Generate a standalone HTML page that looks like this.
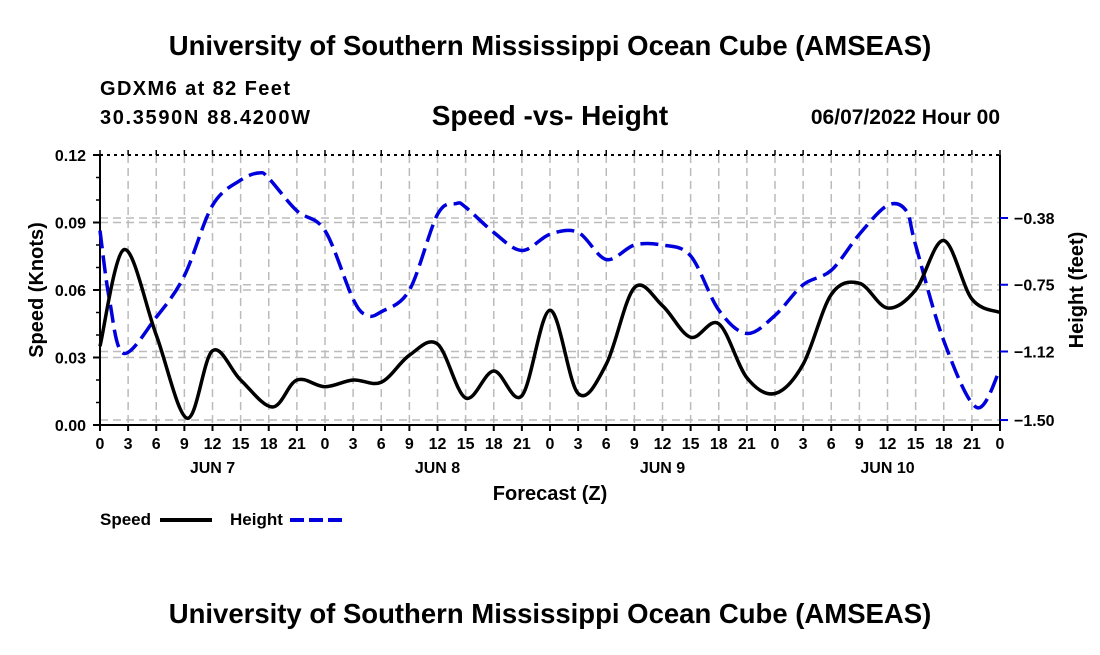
<!DOCTYPE html>
<html><head><meta charset="utf-8"><style>
body{margin:0;background:#fff;width:1100px;height:650px;overflow:hidden}
svg text{font-family:"Liberation Sans",Arial,sans-serif;font-weight:bold}
</style></head><body>
<svg id="chart" width="1100" height="650" xmlns="http://www.w3.org/2000/svg">
<text x="550" y="55" font-size="27.5" text-anchor="middle">University of Southern Mississippi Ocean Cube (AMSEAS)</text>
<text x="100" y="95" font-size="20" textLength="190">GDXM6 at 82 Feet</text>
<text x="100" y="124" font-size="20" textLength="210">30.3590N  88.4200W</text>
<text x="550" y="125" font-size="28" text-anchor="middle">Speed -vs- Height</text>
<text x="1000" y="124" font-size="21" text-anchor="end">06/07/2022 Hour 00</text>
<text x="550" y="623" font-size="27.5" text-anchor="middle">University of Southern Mississippi Ocean Cube (AMSEAS)</text>
<g id="grid"></g><g id="axes"></g><g id="series"></g>
<text x="550" y="500" font-size="20" text-anchor="middle">Forecast (Z)</text>
<text transform="translate(43,290) rotate(-90)" font-size="20" text-anchor="middle">Speed (Knots)</text>
<text transform="translate(1083,290) rotate(-90)" font-size="20" text-anchor="middle">Height (feet)</text>
<g>
<text x="100" y="525" font-size="17">Speed</text>
<line x1="160" y1="520" x2="212" y2="520" stroke="#000" stroke-width="4"/>
<text x="230" y="525" font-size="17">Height</text>
<line x1="290" y1="520" x2="342" y2="520" stroke="#0000dd" stroke-width="4" stroke-dasharray="14,5"/>
</g>
</svg>
<script>
const speedHours=[0,2.6,6,9.3,12,15,18.4,21,24,27,30,33,36,39,42,45,48,51,54,57,60,63,66,69,72,75,78,81,84,87,90,93,96];
const speedValues=[0.035,0.078,0.040,0.003,0.033,0.020,0.008,0.020,0.017,0.020,0.019,0.031,0.036,0.012,0.024,0.013,0.051,0.014,0.027,0.061,0.053,0.039,0.045,0.021,0.014,0.027,0.058,0.063,0.052,0.060,0.082,0.056,0.050];
const heightHours=[0,1,2.5,6,9,12,15,17,18,21,24,27,28.5,30,33,36,38,39,42,45,48,51,54,57,60,63,66,69,72,75,78,81,84,86,87,90,93.5,96];
const heightValues=[-0.45,-0.83,-1.13,-0.93,-0.70,-0.31,-0.17,-0.13,-0.16,-0.34,-0.45,-0.83,-0.92,-0.90,-0.78,-0.36,-0.30,-0.32,-0.46,-0.56,-0.47,-0.46,-0.61,-0.53,-0.53,-0.59,-0.89,-1.02,-0.92,-0.75,-0.67,-0.47,-0.31,-0.34,-0.53,-1.06,-1.43,-1.22];
const xTickLabels=["0","3","6","9","12","15","18","21"];
const dayLabels=["JUN 7","JUN 8","JUN 9","JUN 10"];
const speedTicks=[0,0.03,0.06,0.09,0.12];
const heightTicks=[-0.38,-0.75,-1.12,-1.50];
const L=100,R=1000,T=155,B=425;
const xs=h=>L+h*(R-L)/96;
const yS=v=>B-v*(B-T)/0.12;
const yH=h=>218+(-0.38-h)*180.4;
const NS="http://www.w3.org/2000/svg";
function mk(p,tag,a){const e=document.createElementNS(NS,tag);for(const k in a)e.setAttribute(k,a[k]);p.appendChild(e);return e;}
const grid=document.getElementById('grid'),axes=document.getElementById('axes'),ser=document.getElementById('series');
for(let h=3;h<96;h+=3){const l=mk(grid,'line',{x1:xs(h),x2:xs(h),y1:T,y2:B,stroke:'#bbb','stroke-width':1.5,'stroke-dasharray':'8,5'});

}
speedTicks.forEach(v=>{if(v>0&&v<0.12){const l=mk(grid,'line',{x1:L,x2:R,y1:yS(v),y2:yS(v),stroke:'#bbb','stroke-width':1.5,'stroke-dasharray':'8,5'});

}});
heightTicks.forEach(v=>{const l=mk(grid,'line',{x1:L,x2:R,y1:yH(v),y2:yH(v),stroke:'#bbb','stroke-width':1.5,'stroke-dasharray':'8,5'});

});
const fr=mk(axes,'path',{d:`M${L},${T}V${B}H${R}V${T}`,fill:'none',stroke:'#000','stroke-width':2});


const topAxis=mk(axes,'line',{x1:L,x2:R,y1:T,y2:T,stroke:'#000','stroke-width':2,'stroke-dasharray':'3,4'});


for(let h=0;h<=96;h+=3){const i=(h/3)%8;
mk(axes,'line',{x1:xs(h),x2:xs(h),y1:B,y2:B+6,stroke:'#000','stroke-width':2});
mk(axes,'line',{x1:xs(h),x2:xs(h),y1:T,y2:T-5,stroke:'#000','stroke-width':1.5});
const t=mk(axes,'text',{x:xs(h),y:B+24,'font-size':16,'text-anchor':'middle'});t.textContent=xTickLabels[i];

}
dayLabels.forEach((d,i)=>{const t=mk(axes,'text',{x:xs(12+24*i),y:B+48,'font-size':16,'text-anchor':'middle'});t.textContent=d;

});
speedTicks.forEach(v=>{mk(axes,'line',{x1:L-7,x2:L,y1:yS(v),y2:yS(v),stroke:'#000','stroke-width':2});
const t=mk(axes,'text',{x:L-14,y:yS(v)+6,'font-size':16,'text-anchor':'end'});t.textContent=v.toFixed(2);

});
for(let v=0.01;v<0.12;v+=0.01){mk(axes,'line',{x1:L-4,x2:L,y1:yS(v),y2:yS(v),stroke:'#000','stroke-width':1.5});}
heightTicks.forEach(v=>{mk(axes,'line',{x1:R,x2:R+8,y1:yH(v),y2:yH(v),stroke:'#0000dd','stroke-width':2});
const t=mk(axes,'text',{x:R+14,y:yH(v)+6,'font-size':16});t.textContent='\u2212'+Math.abs(v).toFixed(2);

});
function curve(hs,ys){const p=hs.map((h,i)=>[xs(h),ys[i]]);let d=`M${p[0][0]},${p[0][1]}`;
for(let i=0;i<p.length-1;i++){const p0=p[i-1]||p[i],p1=p[i],p2=p[i+1],p3=p[i+2]||p2;
d+=`C${p1[0]+(p2[0]-p0[0])/6},${p1[1]+(p2[1]-p0[1])/6} ${p2[0]-(p3[0]-p1[0])/6},${p2[1]-(p3[1]-p1[1])/6} ${p2[0]},${p2[1]}`;}return d;}
const hp=mk(ser,'path',{d:curve(heightHours,heightValues.map(yH)),fill:'none',stroke:'#0000dd','stroke-width':3.5,'stroke-dasharray':'18,7'});


const sp=mk(ser,'path',{d:curve(speedHours,speedValues.map(yS)),fill:'none',stroke:'#000','stroke-width':3.5});


</script>
</body></html>
